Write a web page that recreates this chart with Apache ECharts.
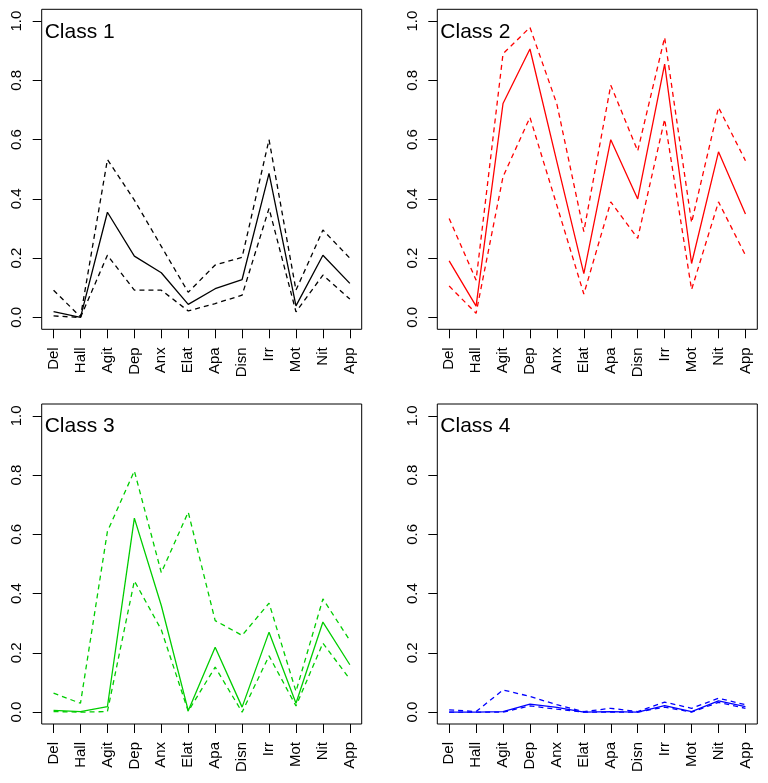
<!DOCTYPE html>
<html>
<head>
<meta charset="utf-8">
<script src="https://cdn.jsdelivr.net/npm/echarts@6/dist/echarts.min.js"></script>
<style>
html,body{margin:0;padding:0;background:#fff;}
#chart{width:768px;height:783px;}
</style>
</head>
<body>
<div id="chart"></div>
<script>
const categories = ['Del','Hall','Agit','Dep','Anx','Elat','Apa','Disn','Irr','Mot','Nit','App'];
const yTickValues = [0, 0.2, 0.4, 0.6, 0.8, 1.0];
const panelTitles = ['Class 1','Class 2','Class 3','Class 4'];
const panelColors = ['#000000','#FF0000','#00CD00','#0000FF'];

const class1Mean  = [0.02, 0.0, 0.355, 0.207, 0.151, 0.044, 0.097, 0.128, 0.486, 0.039, 0.21, 0.115];
const class1Upper = [0.092, 0.002, 0.533, 0.396, 0.24, 0.085, 0.177, 0.203, 0.60, 0.092, 0.295, 0.20];
const class1Lower = [0.005, 0.0, 0.21, 0.092, 0.092, 0.022, 0.047, 0.075, 0.368, 0.019, 0.143, 0.062];

const class2Mean  = [0.191, 0.038, 0.722, 0.906, 0.525, 0.148, 0.60, 0.40, 0.855, 0.182, 0.559, 0.349];
const class2Upper = [0.334, 0.126, 0.89, 0.979, 0.72, 0.29, 0.784, 0.562, 0.945, 0.32, 0.709, 0.529];
const class2Lower = [0.106, 0.014, 0.475, 0.675, 0.378, 0.079, 0.39, 0.267, 0.669, 0.094, 0.39, 0.21];

const class3Mean  = [0.006, 0.002, 0.019, 0.655, 0.36, 0.005, 0.219, 0.017, 0.27, 0.03, 0.304, 0.16];
const class3Upper = [0.064, 0.03, 0.61, 0.814, 0.471, 0.675, 0.309, 0.259, 0.368, 0.07, 0.382, 0.242];
const class3Lower = [0.002, 0.0, 0.002, 0.443, 0.278, 0.003, 0.152, 0.0, 0.19, 0.021, 0.233, 0.111];

const class4Mean  = [0.0, 0.0, 0.002, 0.027, 0.016, 0.0, 0.002, 0.0, 0.022, 0.002, 0.038, 0.019];
const class4Upper = [0.008, 0.002, 0.075, 0.053, 0.025, 0.002, 0.013, 0.002, 0.034, 0.013, 0.047, 0.025];
const class4Lower = [0.0, 0.0, 0.0, 0.021, 0.01, 0.0, 0.0, 0.0, 0.017, 0.0, 0.033, 0.013];

const panelData = [
  [class1Mean, class1Upper, class1Lower],
  [class2Mean, class2Upper, class2Lower],
  [class3Mean, class3Upper, class3Lower],
  [class4Mean, class4Upper, class4Lower]
];

const gridPos = [
  {left: 41.7, top: 9.3},
  {left: 437.3, top: 9.3},
  {left: 41.7, top: 404},
  {left: 437.3, top: 404}
];

const FONT = 'Liberation Sans, Arial, Helvetica, sans-serif';
const xIdx = categories.map((c, i) => i + 1);

const grids = [], xAxes = [], yAxes = [], series = [], titles = [];
gridPos.forEach((g, k) => {
  grids.push({left: g.left, top: g.top, width: 320, height: 320, show: true,
    borderColor: '#000', borderWidth: 1, backgroundColor: 'transparent', containLabel: false});
  xAxes.push({
    type: 'value', gridIndex: k, min: 0.56, max: 12.44, position: 'bottom',
    axisLine: {show: false, onZero: false},
    splitLine: {show: false},
    axisTick: {show: true, inside: false, length: 9, lineStyle: {color: '#000', width: 1}, customValues: xIdx},
    axisLabel: {show: true, rotate: 90, margin: 18, fontSize: 15, color: '#000', fontFamily: FONT,
      customValues: xIdx, formatter: v => categories[Math.round(v) - 1] || ''}
  });
  yAxes.push({
    type: 'value', gridIndex: k, min: -0.04, max: 1.04, position: 'left',
    axisLine: {show: false, onZero: false},
    splitLine: {show: false},
    axisTick: {show: true, inside: false, length: 9, lineStyle: {color: '#000', width: 1}, customValues: yTickValues},
    axisLabel: {show: true, rotate: 90, margin: 17, fontSize: 15, color: '#000', fontFamily: FONT,
      customValues: yTickValues, formatter: v => v.toFixed(1)}
  });
  titles.push({text: panelTitles[k], left: g.left + 3, top: g.top + 12, padding: 0,
    textStyle: {fontSize: 21, fontWeight: 'normal', color: '#000', fontFamily: FONT}});
  const [mean, upper, lower] = panelData[k];
  const mk = (arr, dashed, name) => ({
    type: 'line', name: name, xAxisIndex: k, yAxisIndex: k,
    data: arr.map((v, i) => [xIdx[i], v]),
    symbol: 'none', silent: true,
    lineStyle: {color: panelColors[k], width: 1.3, type: dashed ? [5, 4] : 'solid'},
    z: dashed ? 2 : 3
  });
  series.push(mk(upper, true, panelTitles[k] + ' upper'));
  series.push(mk(lower, true, panelTitles[k] + ' lower'));
  series.push(mk(mean, false, panelTitles[k] + ' mean'));
});

const chart = echarts.init(document.getElementById('chart'), null, {renderer: 'canvas'});
chart.setOption({
  animation: false,
  backgroundColor: '#fff',
  title: titles,
  grid: grids,
  xAxis: xAxes,
  yAxis: yAxes,
  series: series
});
</script>
</body>
</html>
